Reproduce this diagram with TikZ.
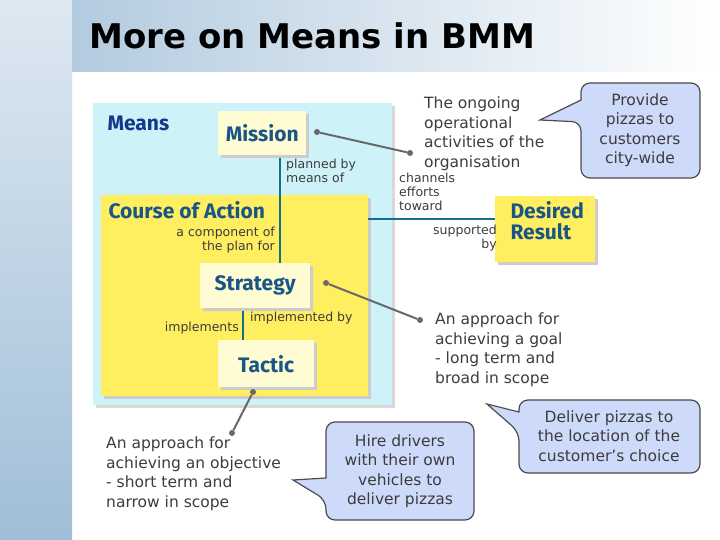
\documentclass[tikz,border=0pt]{standalone}
\usepackage{fontspec}
\setmainfont{DejaVu Sans}
\newfontfamily\bmm{Fira Sans}
\newfontfamily\ttl{DejaVu Sans}
\definecolor{cyanbg}{RGB}{205,242,248}
\definecolor{yel}{RGB}{255,238,95}
\definecolor{pale}{RGB}{255,252,212}
\definecolor{bluetxt}{RGB}{25,85,135}
\definecolor{ttlblue}{RGB}{20,55,140}
\definecolor{callfill}{RGB}{205,218,250}
\definecolor{txtgray}{RGB}{60,60,60}
\definecolor{strip}{RGB}{160,190,215}
\definecolor{linegray}{RGB}{105,105,105}
\definecolor{linkblue}{RGB}{20,110,140}
\begin{document}
\begin{tikzpicture}[x=1pt,y=-1pt,
  lbl/.style={font=\bmm\bfseries\fontsize{21}{21}\selectfont,text=bluetxt},
  rel/.style={font=\fontsize{12.5}{14}\selectfont,text=txtgray,inner sep=1pt},
  note/.style={font=\fontsize{15.5}{19.5}\selectfont,text=txtgray,align=left,anchor=north west,inner sep=0pt},
  call/.style={draw=black!70,line width=1.2pt,fill=callfill,rounded corners=9pt},
  calltext/.style={font=\fontsize{15.5}{19.5}\selectfont,text=txtgray,align=center},
  ptr/.style={draw=linegray,line width=2pt},
  dot/.style={circle,fill=linegray,inner sep=0pt,minimum size=6pt},
  link/.style={draw=linkblue,line width=1.2pt}]
\useasboundingbox (0,0) rectangle (720,540);
\shade[top color=strip!35,bottom color=strip] (0,0) rectangle (72,540);
\shade[left color=strip!80!white,right color=white] (72,0) rectangle (720,72);
\node[anchor=west,font=\ttl\bfseries\fontsize{34}{34}\selectfont] (title) at (86,36) {More on Means in BMM};
% Means panel
\fill[black!15] (96,106) rectangle (395,408);
\fill[cyanbg] (93,103) rectangle (392,405);
\node[lbl,text=ttlblue,anchor=west] (means) at (104,123) {Means};
\fill[black!20] (104,198) rectangle (371,399);
\fill[yel] (101,195) rectangle (368,396);
\node[lbl,anchor=west] (coa) at (105,210) {Course of Action};
% links
\coordinate (mbot) at (280,155);
\coordinate (stop) at (280,263);
\draw[link] (mbot) -- (stop);
\draw[link] (243,308) -- (243,340);
\coordinate (coar) at (368,219);
\coordinate (drl) at (495,219);
\draw[link] (coar) -- (drl);
% boxes
\fill[black!20] (221,114) rectangle (309,158);
\node[fill=pale,minimum width=88pt,minimum height=44pt,anchor=north west,inner sep=0pt] (mission) at (218,111) {};
\node[lbl] at (mission) {Mission};
\fill[black!20] (203,266) rectangle (313,311);
\node[fill=pale,minimum width=110pt,minimum height=45pt,anchor=north west,inner sep=0pt] (strategy) at (200,263) {};
\node[lbl] at (strategy) {Strategy};
\fill[black!20] (221,343) rectangle (317,390);
\node[fill=pale,minimum width=96pt,minimum height=47pt,anchor=north west,inner sep=0pt] (tactic) at (218,340) {};
\node[lbl] at (tactic) {Tactic};
\fill[black!20] (498,199) rectangle (598,265);
\node[fill=yel,minimum width=100pt,minimum height=66pt,anchor=north west,inner sep=0pt] (dr) at (495,196) {};
\node[lbl,align=left,anchor=west,font=\bmm\bfseries\fontsize{21}{21}\selectfont] (drt) at (507,221) {Desired\\Result};
% relation labels
\node[rel,align=left,anchor=north west] (r1) at (285,158) {planned by\\means of};
\node[rel,align=right,anchor=north east] (r2) at (276,226) {a component of\\the plan for};
\node[rel,align=left,anchor=north west] (r3) at (398,172) {channels\\efforts\\toward};
\node[rel,align=right,anchor=north east] (r4) at (498,224) {supported\\by};
\node[rel,anchor=north west] (r5) at (249,311) {implemented by};
\node[rel,anchor=north east] (r6) at (240,321) {implements};
% notes
\node[note] (n1) at (424,97) {The ongoing\\operational\\activities of the\\organisation};
\node[note] (n2) at (435,313) {An approach for\\achieving a goal\\- long term and\\broad in scope};
\node[note] (n3) at (106,437) {An approach for\\achieving an objective\\- short term and\\narrow in scope};
\node[dot] (d1) at (317,132) {}; \node[dot] (d2) at (410,153) {};
\draw[ptr] (d1) -- (d2);
\node[dot] (d3) at (326,283) {}; \node[dot] (d4) at (420,320) {};
\draw[ptr] (d3) -- (d4);
\node[dot] (d5) at (253,392) {}; \node[dot] (d6) at (232,433) {};
\draw[ptr] (d5) -- (d6);
% callouts
\draw[call] (581,100) -- (581,83) -- (700,83) -- (700,178) -- (581,178) -- (581,122)[sharp corners] -- (540,120) -- cycle;
\node[calltext] (c1) at (640,130) {Provide\\pizzas to\\customers\\city-wide};
\draw[call] (519,412) -- (519,400) -- (700,400) -- (700,473) -- (519,473) -- (519,432)[sharp corners] -- (487,404) -- cycle;
\node[calltext] (c2) at (609,436) {Deliver pizzas to\\the location of the\\customer’s choice};
\draw[call] (326,478) -- (326,422) -- (474,422) -- (474,520) -- (326,520) -- (326,500)[sharp corners] -- (293,480) -- cycle;
\node[calltext] (c3) at (400,471) {Hire drivers\\with their own\\vehicles to\\deliver pizzas};
\end{tikzpicture}
\end{document}
